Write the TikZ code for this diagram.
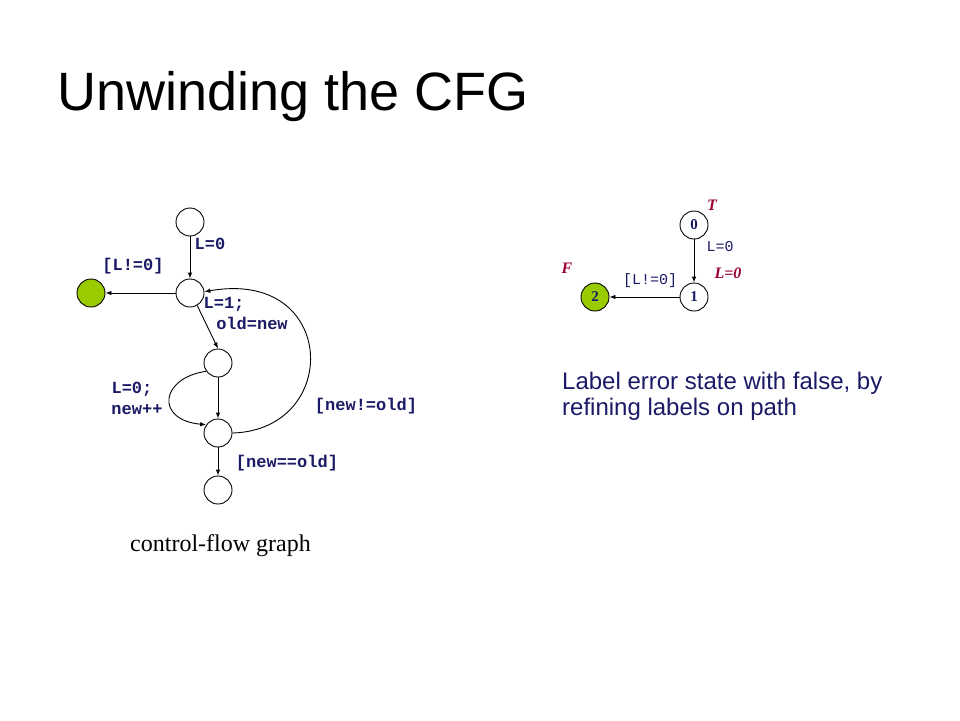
\documentclass[tikz,border=0pt]{standalone}
\usepackage{fontspec}
\setmainfont{Liberation Serif}
\newfontfamily\arialfont{Liberation Sans}
\newfontfamily\courfont{Liberation Mono}
\usetikzlibrary{arrows.meta}
\definecolor{navy}{RGB}{26,26,102}
\definecolor{errgreen}{RGB}{153,204,0}
\definecolor{maroon}{RGB}{153,0,51}
\tikzset{
	state/.style={draw, circle, minimum size=28pt, inner sep=0pt, line width=0.9pt},
	errstate/.style={state, fill=errgreen},
	flow/.style={-{Latex[length=6pt,width=4.5pt]}, line width=0.9pt},
	cfglab/.style={text=navy, inner sep=0pt, font={\courfont\bfseries\fontsize{17}{17}\selectfont}},
	artlab/.style={text=navy, inner sep=0pt, font={\courfont\fontsize{15}{15}\selectfont}},
	num/.style={text=navy, font={\bfseries\fontsize{15}{15}\selectfont}},
	pred/.style={text=maroon, inner sep=0pt, font={\bfseries\itshape\fontsize{16}{16}\selectfont}}
}

\begin{document}
\begin{tikzpicture}[x=1pt, y=-1pt]
		\fill[white] (0,0) rectangle (960,720);
		\useasboundingbox (0,0) rectangle (960,720);
		\node[anchor=base west, inner sep=0pt, font={\arialfont\fontsize{54}{54}\selectfont}] (title) at (57,110) {Unwinding the CFG};
		% control-flow graph
		\node[state] (A) at (190,222) {};
		\node[state] (B) at (190,293) {};
		\node[errstate] (G) at (91,293) {};
		\node[state] (C) at (218,363) {};
		\node[state] (D) at (218,433) {};
		\node[state] (E) at (218,490) {};
		\draw[flow] (A) -- (B);
		\draw[flow] (B) -- (G);
		\draw[flow] (B.-60) -- (C.north);
		\draw[flow] (C) -- (D);
		\draw[flow] (C.215) .. controls (160,378) and (155,420) .. (D.145);
		\draw[flow] (D.east) .. controls (342,430) and (338,268) .. (B.5);
		\draw[flow] (D) -- (E);
		\node[cfglab] at (210,244) {L=0};
		\node[cfglab] at (133,266) {[L!=0]};
		\node[cfglab] at (224,304) {L=1;};
		\node[cfglab] at (252,323) {old=new};
		\node[cfglab] at (132,389) {L=0;};
		\node[cfglab] at (137,410) {new++};
		\node[cfglab] at (366,406) {[new!=old]};
		\node[cfglab] at (287,463) {[new==old]};
		\node[anchor=base west, inner sep=0pt, font={\fontsize{24}{24}\selectfont}] (cap) at (130,551) {control-flow graph};
		% abstract reachability tree
		\node[state, num] (n0) at (694,225) {0};
		\node[state, num] (n1) at (694,297) {1};
		\node[errstate, num] (n2) at (595,297) {2};
		\draw[flow] (n0) -- (n1);
		\draw[flow] (n1) -- (n2);
		\node[artlab] at (720,247) {L=0};
		\node[artlab] at (650,281) {[L!=0]};
		\node[pred] at (712,205) {T};
		\node[pred] at (567,268) {F};
		\node[pred] at (728,273) {L=0};
		\node[anchor=north west, inner sep=0pt, align=left, text=navy, font={\arialfont\fontsize{24}{25.5}\selectfont}] (note) at (562,372) {Label error state with false, by\\refining labels on path};
	\end{tikzpicture}
\end{document}
